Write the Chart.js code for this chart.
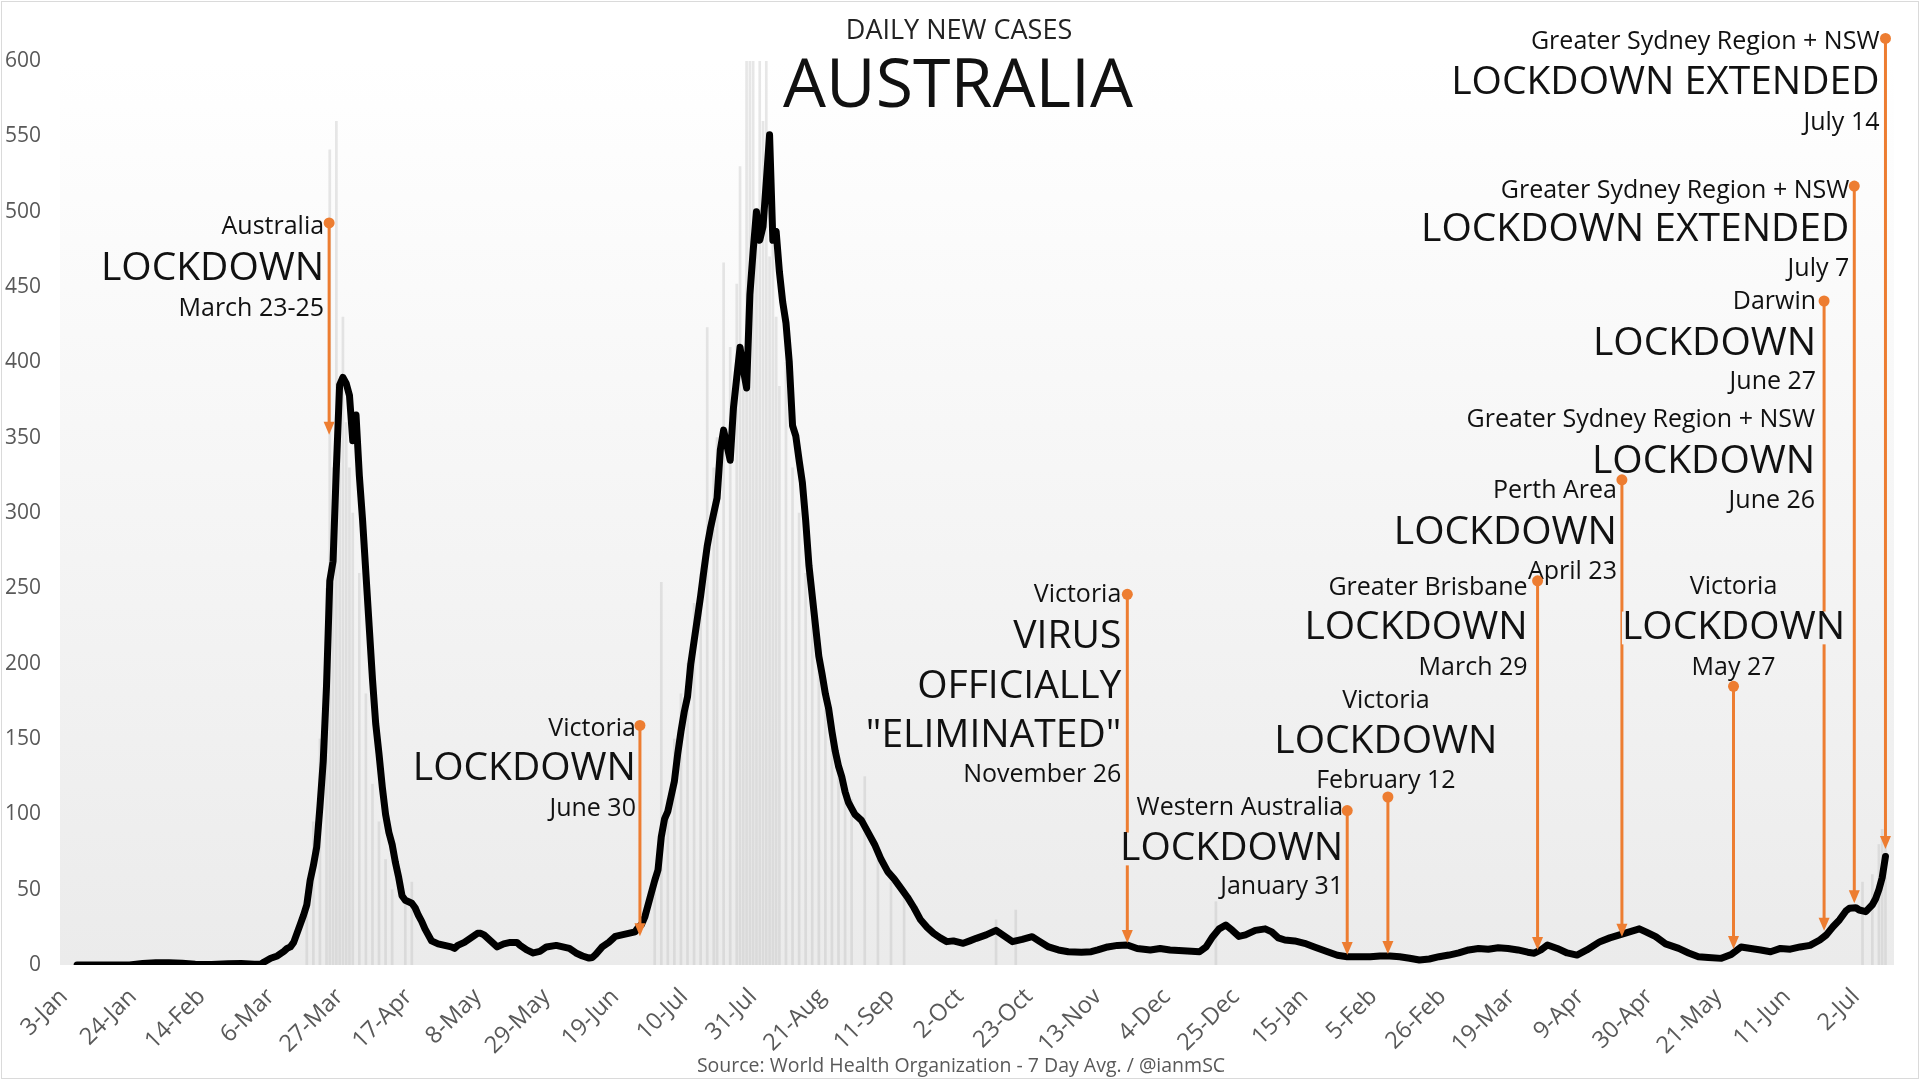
<!DOCTYPE html>
<html>
<head>
<meta charset="utf-8">
<title>Daily new cases - Australia</title>
<script src="https://cdn.jsdelivr.net/npm/chart.js@4.4.1/dist/chart.umd.min.js"></script>
<style>
  html, body { margin: 0; padding: 0; background: #fff; }
  #wrap { position: relative; width: 1920px; height: 1084px; }
  #wrap:after { content: ''; position: absolute; left: 1px; top: 1px; right: 1px; bottom: 5px;
                border: 1px solid #dadada; pointer-events: none; }
</style>
</head>
<body>
<div id="wrap"><canvas id="chart"></canvas></div>
<script>
// all days are counted from 3-Jan-2020 (day 0)

// x axis ticks, every 21 days
var tickDays = [0, 21, 42, 63, 84, 105, 126, 147, 168, 189, 210, 231, 252, 273,
                294, 315, 336, 357, 378, 399, 420, 441, 462, 483, 504, 525, 546];
var tickLabels = ['3-Jan', '24-Jan', '14-Feb', '6-Mar', '27-Mar', '17-Apr', '8-May', '29-May', '19-Jun',
                  '10-Jul', '31-Jul', '21-Aug', '11-Sep', '2-Oct', '23-Oct', '13-Nov', '4-Dec', '25-Dec',
                  '15-Jan', '5-Feb', '26-Feb', '19-Mar', '9-Apr', '30-Apr', '21-May', '11-Jun', '2-Jul'];

// 7 day average
var lineDays = [
  4, 20, 24, 28, 32, 36, 40, 45, 50, 54, 58, 60,
  61, 63, 65, 67, 68, 69, 70, 71, 72, 73, 74, 75, 76, 77, 78, 79, 80, 81, 82, 83, 84, 85, 86, 87, 88, 89, 90, 91,
  92, 93, 94, 95, 96, 97, 98, 99, 100, 101, 102, 103, 104, 105, 106, 107, 108, 109, 110, 111, 112, 113, 114,
  116, 118, 119, 120, 122, 124, 126, 127, 128, 130, 132, 134, 136, 138, 139, 141, 143, 145, 147, 150,
  152, 154, 156, 158, 160, 161, 162, 164, 166, 168, 170, 172, 174, 175, 176, 177, 178, 179, 180, 181,
  182, 183, 184, 185, 186, 187, 188, 189, 190, 191, 192, 193, 194, 195, 196, 197, 198, 199, 200, 201,
  202, 203, 204, 205, 206, 207, 208, 209, 210, 211, 212, 213, 214, 215, 216, 217, 218, 219, 220, 221,
  222, 223, 224, 225, 226, 227, 228, 229, 230, 231, 232, 233, 234, 235, 236, 237, 238, 239, 240, 241,
  242, 243, 245, 247, 249, 251, 253, 255, 257, 259, 261, 263, 265, 267, 269,
  271, 274, 276, 278, 281, 284, 286, 289, 292, 295,
  297, 300, 303, 306, 310, 313, 315, 318, 321, 324,
  327, 331, 334, 337, 341, 346, 348, 350, 352, 354,
  356, 358, 360, 363, 366, 368, 370, 372, 375, 378,
  381, 385, 388, 391, 395, 398, 401, 404, 407, 410,
  413, 416, 419, 422, 425, 428, 431, 434, 437, 440,
  443, 446, 448, 450, 452, 455, 458, 461, 464, 468,
  471, 474, 477, 480, 482, 485, 488, 492, 495, 498,
  501, 505, 508, 511, 514, 517, 520, 523, 526, 529,
  532, 535, 537, 539, 541, 543, 544, 546, 547, 549,
  551, 552, 553, 554, 555
];
var lineCases = [
  0, 0, 1, 1.5, 1.5, 1.2, 0.5, 0.3, 0.8, 1, 0.5, 0.5,
  2, 4.5, 6, 9, 11, 12, 15, 21, 27, 33, 40, 56, 66, 78, 105, 135, 185, 255, 268, 330, 385, 390, 386, 378, 348, 365, 325, 295,
  260, 225, 190, 160, 140, 118, 100, 88, 80, 68, 58, 46, 43, 42, 41, 38, 33, 29, 24, 20, 16, 15, 14,
  13, 12, 11, 13, 15, 18, 21, 21, 20, 16, 12, 14, 15, 15, 13, 10, 8, 9, 12, 13,
  12, 11, 8, 6, 4.6, 5, 7, 12, 15, 19, 20, 21, 22, 25, 27, 32, 40, 48, 56, 63,
  85, 97, 102, 112, 122, 140, 155, 168, 178, 200, 215, 230, 245, 262, 278, 290, 300, 310, 342, 355,
  345, 335, 370, 390, 410, 395, 383, 445, 474, 500, 481, 490, 520, 551, 481, 487, 460, 440, 426, 400,
  358, 351, 335, 320, 295, 265, 245, 225, 205, 193, 180, 170, 155, 142, 132, 125, 115, 108, 104, 100,
  98, 96, 88, 80, 70, 62, 57, 51, 45, 38, 30, 25, 21, 18, 15.5,
  16, 14.4, 16, 17.7, 20, 23, 20, 15.5, 17, 18.8,
  16, 12, 10, 8.8, 8.5, 8.8, 10, 12, 13, 13.3,
  11, 10, 11, 10, 9.5, 8.8, 12, 18.8, 24, 26.5,
  23, 19, 20, 23, 24, 22, 18, 16.6, 16, 14.4,
  12, 8.8, 6.5, 5.5, 5.5, 5.5, 6, 6, 5.5, 4.5,
  3.3, 4, 5.5, 6.6, 8, 10, 11, 10.5, 11.5, 11,
  10, 8.5, 7.8, 10, 13.3, 11, 8, 6.6, 10, 15.5,
  18, 20, 22, 24, 22, 18.8, 14, 11, 8, 5.5,
  5, 4.4, 7, 12, 11, 10, 8.8, 11, 10.5, 12,
  13, 16.6, 20, 25.4, 30, 36, 37.6, 38, 36.5, 35.4,
  40, 44, 50, 58, 72
];

// daily cases (faint bars) where they show above the average
var barDays = [74, 76, 78, 80, 81, 82, 83, 84, 85, 86, 87, 88, 90, 92, 94, 96, 98, 100, 104, 106,
               180, 182, 184, 186, 188, 190, 192, 194, 196, 198, 199, 201, 203, 205, 206, 207, 208, 209, 210, 211,
               212, 213, 214, 215, 216, 217, 218, 220, 222, 224, 226, 228, 230, 232, 234, 236, 238, 240, 244, 248,
               252, 256, 284, 290, 351, 548, 551, 553, 554, 555];
var barCases = [50, 95, 150, 250, 541, 330, 560, 380, 430, 360, 330, 300, 260, 180, 120, 95, 70, 50, 40, 55,
                60, 254, 110, 150, 180, 200, 240, 260, 423, 330, 350, 466, 410, 452, 530, 400, 600, 600, 600, 480,
                600, 560, 600, 470, 500, 430, 384, 400, 330, 300, 260, 230, 200, 170, 150, 130, 120, 110, 125, 70,
                55, 45, 30, 36.5, 42, 55, 60, 80, 90, 100];

// lockdown events: day of the stem, value at the dot (top) and at the arrow tip
var eventDays = [80.8, 175.5, 324, 391, 403.4, 449, 474.7, 508.7, 536.3, 545.5, 555];
var eventTop  = [492.5, 159, 246, 102.5, 111.5, 255, 322, 185, 440.7, 517, 615];
var eventTip  = [352, 19, 14.6, 6.6, 7.3, 10, 18.8, 10.6, 22.8, 41, 77];

// annotation texts; rows are [text, big?, value at row centre]
var notes = [
  { ev: 0, align: 'right', dx: -5, rows: [['Australia', 0, 490], ['LOCKDOWN', 1, 462], ['March 23-25', 0, 435.6]] },
  { ev: 1, align: 'right', dx: -4, rows: [['Victoria', 0, 157], ['LOCKDOWN', 1, 130], ['June 30', 0, 103.3]] },
  { ev: 2, align: 'right', dx: -6, rows: [['Victoria', 0, 245.6], ['VIRUS', 1, 218], ['OFFICIALLY', 1, 184.5],
                                          ['"ELIMINATED"', 1, 152], ['November 26', 0, 126]] },
  { ev: 3, align: 'right', dx: -4, rows: [['Western Australia', 0, 104], ['LOCKDOWN', 1, 77], ['January 31', 0, 52]] },
  { ev: 4, align: 'center', dx: -2, rows: [['Victoria', 0, 175], ['LOCKDOWN', 1, 148], ['February 12', 0, 122]] },
  { ev: 5, align: 'right', dx: -10, rows: [['Greater Brisbane', 0, 250], ['LOCKDOWN', 1, 223.7], ['March 29', 0, 197.5]] },
  { ev: 6, align: 'right', dx: -5, rows: [['Perth Area', 0, 314.6], ['LOCKDOWN', 1, 287], ['April 23', 0, 261]] },
  { ev: 7, align: 'center', dx: 0, rows: [['Victoria', 0, 251], ['LOCKDOWN', 1, 223.7], ['May 27', 0, 197.5]] },
  { ev: 8, align: 'right', dx: -8, rows: [['Darwin', 0, 440], ['LOCKDOWN', 1, 412], ['June 27', 0, 387]] },
  { ev: 8, align: 'right', dx: -9, rows: [['Greater Sydney Region + NSW', 0, 361.7], ['LOCKDOWN', 1, 334], ['June 26', 0, 308]] },
  { ev: 9, align: 'right', dx: -5, rows: [['Greater Sydney Region + NSW', 0, 514], ['LOCKDOWN EXTENDED', 1, 488], ['July 7', 0, 461.7]] },
  { ev: 10, align: 'right', dx: -6, rows: [['Greater Sydney Region + NSW', 0, 613], ['LOCKDOWN EXTENDED', 1, 585.4], ['July 14', 0, 559]] }
];

var FONT = '"Open Sans", "Noto Sans", sans-serif';
var ORANGE = '#ED7D31';
var bgGrad = null;

function xy(days, vals) {
  return days.map(function(d, i) { return { x: d, y: vals[i] }; });
}

// plot area: white at top fading to light grey at the base
var background = {
  id: 'background',
  beforeDatasetsDraw: function(chart) {
    var a = chart.chartArea, ctx = chart.ctx;
    bgGrad = ctx.createLinearGradient(0, a.top, 0, a.bottom);
    bgGrad.addColorStop(0, '#ffffff');
    bgGrad.addColorStop(1, '#ebebeb');
    ctx.save();
    ctx.fillStyle = bgGrad;
    ctx.fillRect(a.left, a.top, a.right - a.left, a.bottom - a.top);
    ctx.restore();
  }
};

// orange stems, labels, dots and arrow heads
var lockdowns = {
  id: 'lockdowns',
  afterDatasetsDraw: function(chart) {
    var ctx = chart.ctx, xs = chart.scales.x, ys = chart.scales.y;
    ctx.save();
    ctx.strokeStyle = ORANGE;
    ctx.lineWidth = 3;
    eventDays.forEach(function(d, i) {
      var x = xs.getPixelForValue(d);
      ctx.beginPath();
      ctx.moveTo(x, ys.getPixelForValue(eventTop[i]));
      ctx.lineTo(x, ys.getPixelForValue(eventTip[i]) - 10);
      ctx.stroke();
    });

    ctx.textBaseline = 'middle';
    notes.forEach(function(n) {
      var lx = xs.getPixelForValue(eventDays[n.ev]) + n.dx;
      n.rows.forEach(function(r) {
        var size = r[1] ? 39 : 25;
        ctx.font = size + 'px ' + FONT;
        var w = ctx.measureText(r[0]).width;
        var y = ys.getPixelForValue(r[2]);
        var left = n.align === 'right' ? lx - w : lx - w / 2;
        ctx.fillStyle = bgGrad;  // label box hides stems passing behind it
        ctx.fillRect(left, y - size * 0.42, w, size * 0.84);
        ctx.fillStyle = '#111';
        ctx.textAlign = n.align;
        ctx.fillText(r[0], lx, y);
      });
    });

    ctx.fillStyle = ORANGE;
    eventDays.forEach(function(d, i) {
      var x = xs.getPixelForValue(d);
      var yt = ys.getPixelForValue(eventTop[i]);
      var yb = ys.getPixelForValue(eventTip[i]);
      ctx.beginPath();
      ctx.arc(x, yt, 5.5, 0, Math.PI * 2);
      ctx.fill();
      ctx.beginPath();
      ctx.moveTo(x - 5.5, yb - 13);
      ctx.lineTo(x + 5.5, yb - 13);
      ctx.lineTo(x, yb);
      ctx.closePath();
      ctx.fill();
    });
    ctx.restore();
  }
};

// titles and source line
var texts = {
  id: 'texts',
  afterDraw: function(chart) {
    var ctx = chart.ctx;
    ctx.save();
    ctx.textAlign = 'center';
    ctx.textBaseline = 'middle';
    ctx.fillStyle = '#222';
    ctx.font = '27px ' + FONT;
    ctx.fillText('DAILY NEW CASES', 959, 31);
    ctx.fillStyle = '#111';
    ctx.font = '68px ' + FONT;
    ctx.fillText('AUSTRALIA', 958, 88);
    ctx.fillStyle = '#595959';
    ctx.font = '19.5px ' + FONT;
    ctx.fillText('Source: World Health Organization - 7 Day Avg. / @ianmSC', 961, 1066);
    ctx.restore();
  }
};

new Chart(document.getElementById('chart'), {
  type: 'line',
  data: {
    datasets: [
      {
        type: 'line',
        label: '7 day average',
        data: xy(lineDays, lineCases),
        borderColor: '#000',
        borderWidth: 7,
        pointRadius: 0,
        tension: 0,
        borderJoinStyle: 'round',
        borderCapStyle: 'round',
        order: 0
      },
      {
        type: 'bar',
        label: 'daily cases',
        data: xy(barDays, barCases),
        backgroundColor: 'rgba(185,185,185,0.35)',
        barThickness: 2,
        order: 1
      }
    ]
  },
  options: {
    responsive: true,
    maintainAspectRatio: false,
    animation: false,
    layout: { padding: { top: 61, right: 26, bottom: 0, left: 0 } },
    plugins: {
      legend: { display: false },
      tooltip: { enabled: false },
      title: { display: false }
    },
    scales: {
      x: {
        type: 'linear',
        min: -1.2,
        max: 557.6,
        offset: false,
        grid: { display: false },
        border: { display: false },
        afterBuildTicks: function(scale) {
          scale.ticks = tickDays.map(function(d) { return { value: d }; });
        },
        afterFit: function(scale) { scale.height = 119; },
        ticks: {
          autoSkip: false,
          minRotation: 45,
          maxRotation: 45,
          padding: 10,
          color: '#595959',
          font: { family: FONT, size: 23.5 },
          callback: function(value) {
            var i = tickDays.indexOf(value);
            return i >= 0 ? tickLabels[i] : '';
          }
        }
      },
      y: {
        min: 0,
        max: 600,
        grid: { display: false },
        border: { display: false },
        afterFit: function(scale) { scale.width = 60; },
        ticks: {
          stepSize: 50,
          padding: 11,
          color: '#595959',
          font: { family: FONT, size: 21 }
        }
      }
    }
  },
  plugins: [background, lockdowns, texts]
});
</script>
</body>
</html>
